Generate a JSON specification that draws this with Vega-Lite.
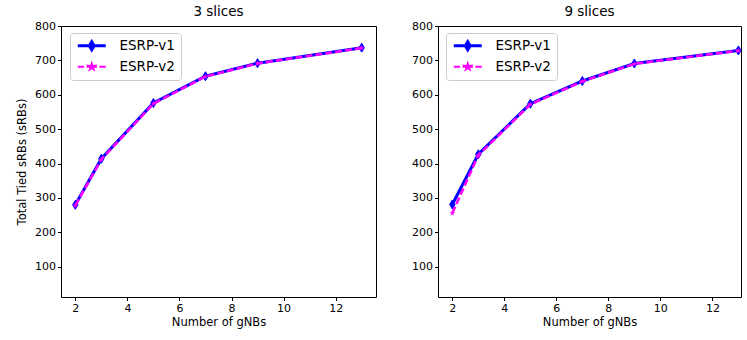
{
  "$schema": "https://vega.github.io/schema/vega-lite/v6.json",
  "padding": {"left": 16, "top": 4, "right": 0, "bottom": 0},
  "background": "white",
  "config": {
    "font": "DejaVu Sans",
    "view": {"stroke": "#000000", "strokeWidth": 1},
    "axis": {"grid": false, "domain": false, "tickColor": "#000000", "tickSize": 3.5, "labelFontSize": 11, "labelColor": "#000000", "titleFontSize": 11.5, "titleFontWeight": "normal", "titleColor": "#000000", "labelPadding": 2},
    "title": {"fontSize": 13.5, "fontWeight": "normal", "color": "#000000", "offset": 2}
  },
  "datasets": {
    "d": [
      {"panel": "3 slices", "series": "ESRP-v1", "gnbs": 2, "srbs": 280},
      {"panel": "3 slices", "series": "ESRP-v1", "gnbs": 3, "srbs": 414},
      {"panel": "3 slices", "series": "ESRP-v1", "gnbs": 5, "srbs": 576},
      {"panel": "3 slices", "series": "ESRP-v1", "gnbs": 7, "srbs": 654},
      {"panel": "3 slices", "series": "ESRP-v1", "gnbs": 9, "srbs": 692},
      {"panel": "3 slices", "series": "ESRP-v1", "gnbs": 13, "srbs": 737},
      {"panel": "3 slices", "series": "ESRP-v2", "gnbs": 2, "srbs": 278},
      {"panel": "3 slices", "series": "ESRP-v2", "gnbs": 3, "srbs": 412},
      {"panel": "3 slices", "series": "ESRP-v2", "gnbs": 5, "srbs": 574},
      {"panel": "3 slices", "series": "ESRP-v2", "gnbs": 7, "srbs": 653},
      {"panel": "3 slices", "series": "ESRP-v2", "gnbs": 9, "srbs": 691},
      {"panel": "3 slices", "series": "ESRP-v2", "gnbs": 13, "srbs": 736},
      {"panel": "9 slices", "series": "ESRP-v1", "gnbs": 2, "srbs": 281},
      {"panel": "9 slices", "series": "ESRP-v1", "gnbs": 3, "srbs": 427},
      {"panel": "9 slices", "series": "ESRP-v1", "gnbs": 5, "srbs": 574},
      {"panel": "9 slices", "series": "ESRP-v1", "gnbs": 7, "srbs": 640},
      {"panel": "9 slices", "series": "ESRP-v1", "gnbs": 9, "srbs": 691},
      {"panel": "9 slices", "series": "ESRP-v1", "gnbs": 13, "srbs": 729},
      {"panel": "9 slices", "series": "ESRP-v2", "gnbs": 2, "srbs": 256},
      {"panel": "9 slices", "series": "ESRP-v2", "gnbs": 3, "srbs": 424},
      {"panel": "9 slices", "series": "ESRP-v2", "gnbs": 5, "srbs": 572},
      {"panel": "9 slices", "series": "ESRP-v2", "gnbs": 7, "srbs": 639},
      {"panel": "9 slices", "series": "ESRP-v2", "gnbs": 9, "srbs": 690},
      {"panel": "9 slices", "series": "ESRP-v2", "gnbs": 13, "srbs": 728}
    ]
  },
  "bounds": "flush",
  "spacing": 62,
  "resolve": {"legend": {"color": "independent"}, "scale": {"x": "independent", "y": "independent"}},
  "hconcat": [
    {
      "title": "3 slices",
      "width": 315,
      "height": 271,
      "data": {"name": "d"},
      "transform": [{"filter": "datum.panel === '3 slices'"}],
      "encoding": {
        "x": {"field": "gnbs", "type": "quantitative", "scale": {"domain": [1.45, 13.55], "nice": false, "zero": false}, "axis": {"values": [2, 4, 6, 8, 10, 12], "title": "Number of gNBs", "titlePadding": 3}},
        "y": {"field": "srbs", "type": "quantitative", "scale": {"domain": [12, 800], "nice": false, "zero": false}, "axis": {"values": [100, 200, 300, 400, 500, 600, 700, 800], "title": "Total Tied sRBs (sRBs)", "titlePadding": 7}},
        "color": {"field": "series", "type": "nominal", "scale": {"domain": ["ESRP-v1", "ESRP-v2"], "range": ["#0000ff", "#ff00ff"]}, "legend": null}
      },
      "layer": [
        {
          "transform": [{"filter": "datum.series === 'ESRP-v1'"}],
          "mark": {"type": "line", "strokeWidth": 3},
          "encoding": {
            "color": {"field": "series", "type": "nominal", "scale": {"domain": ["ESRP-v1", "ESRP-v2"], "range": ["#0000ff", "#ff00ff"]},
              "legend": {"title": null, "orient": "none", "legendX": 9, "legendY": 7, "fillColor": "white", "strokeColor": "#cccccc", "cornerRadius": 3, "padding": 6, "labelFontSize": 13.5, "labelColor": "#000000", "symbolSize": 64, "symbolOffset": 9, "labelOffset": 21, "rowPadding": 3,
                "encode": {"symbols": {"update": {
                  "shape": {"signal": "datum.value === 'ESRP-v1' ? 'M-3.5,0L3.5,0M0,-1L0.6,0L0,1L-0.6,0Z' : 'M-3.5,0L-1.9,0M-1.3,0L-0.6,0M0.6,0L1.3,0M1.9,0L3.5,0M0,-0.75L0.17,-0.23L0.71,-0.23L0.27,0.09L0.44,0.61L0,0.29L-0.44,0.61L-0.27,0.09L-0.71,-0.23L-0.17,-0.23Z'"},
                  "strokeWidth": {"signal": "datum.value === 'ESRP-v1' ? 3 : 2"},
                  "fill": {"signal": "datum.value === 'ESRP-v1' ? '#0000ff' : '#ff00ff'"},
                  "stroke": {"signal": "datum.value === 'ESRP-v1' ? '#0000ff' : '#ff00ff'"},
                  "opacity": {"value": 1}, "fillOpacity": {"value": 1}
                }}}}}
          }
        },
        {
          "transform": [{"filter": "datum.series === 'ESRP-v1'"}],
          "mark": {"type": "point", "filled": true, "opacity": 1, "size": 81, "shape": "M0,-1L0.6,0L0,1L-0.6,0Z", "stroke": "#0000ff", "strokeWidth": 1}
        },
        {
          "transform": [{"filter": "datum.series === 'ESRP-v2'"}],
          "mark": {"type": "line", "strokeWidth": 2.5, "strokeDash": [7, 3]}
        },
        {
          "transform": [{"filter": "datum.series === 'ESRP-v2'"}],
          "mark": {"type": "point", "filled": true, "opacity": 1, "size": 36, "shape": "M0,-1L0.225,-0.309L0.951,-0.309L0.363,0.118L0.588,0.809L0,0.382L-0.588,0.809L-0.363,0.118L-0.951,-0.309L-0.225,-0.309Z"}
        }
      ]
    },
    {
      "title": "9 slices",
      "width": 303,
      "height": 271,
      "data": {"name": "d"},
      "transform": [{"filter": "datum.panel === '9 slices'"}],
      "encoding": {
        "x": {"field": "gnbs", "type": "quantitative", "scale": {"domain": [1.45, 13.1], "nice": false, "zero": false}, "axis": {"values": [2, 4, 6, 8, 10, 12], "title": "Number of gNBs", "titlePadding": 3}},
        "y": {"field": "srbs", "type": "quantitative", "scale": {"domain": [12, 800], "nice": false, "zero": false}, "axis": {"values": [100, 200, 300, 400, 500, 600, 700, 800], "title": null}},
        "color": {"field": "series", "type": "nominal", "scale": {"domain": ["ESRP-v1", "ESRP-v2"], "range": ["#0000ff", "#ff00ff"]}, "legend": null}
      },
      "layer": [
        {
          "transform": [{"filter": "datum.series === 'ESRP-v1'"}],
          "mark": {"type": "line", "strokeWidth": 3},
          "encoding": {
            "color": {"field": "series", "type": "nominal", "scale": {"domain": ["ESRP-v1", "ESRP-v2"], "range": ["#0000ff", "#ff00ff"]},
              "legend": {"title": null, "orient": "none", "legendX": 8, "legendY": 7, "fillColor": "white", "strokeColor": "#cccccc", "cornerRadius": 3, "padding": 6, "labelFontSize": 13.5, "labelColor": "#000000", "symbolSize": 64, "symbolOffset": 9, "labelOffset": 21, "rowPadding": 3,
                "encode": {"symbols": {"update": {
                  "shape": {"signal": "datum.value === 'ESRP-v1' ? 'M-3.5,0L3.5,0M0,-1L0.6,0L0,1L-0.6,0Z' : 'M-3.5,0L-1.9,0M-1.3,0L-0.6,0M0.6,0L1.3,0M1.9,0L3.5,0M0,-0.75L0.17,-0.23L0.71,-0.23L0.27,0.09L0.44,0.61L0,0.29L-0.44,0.61L-0.27,0.09L-0.71,-0.23L-0.17,-0.23Z'"},
                  "strokeWidth": {"signal": "datum.value === 'ESRP-v1' ? 3 : 2"},
                  "fill": {"signal": "datum.value === 'ESRP-v1' ? '#0000ff' : '#ff00ff'"},
                  "stroke": {"signal": "datum.value === 'ESRP-v1' ? '#0000ff' : '#ff00ff'"},
                  "opacity": {"value": 1}, "fillOpacity": {"value": 1}
                }}}}}
          }
        },
        {
          "transform": [{"filter": "datum.series === 'ESRP-v1'"}],
          "mark": {"type": "point", "filled": true, "opacity": 1, "size": 81, "shape": "M0,-1L0.6,0L0,1L-0.6,0Z", "stroke": "#0000ff", "strokeWidth": 1}
        },
        {
          "transform": [{"filter": "datum.series === 'ESRP-v2'"}],
          "mark": {"type": "line", "strokeWidth": 2.5, "strokeDash": [7, 3]}
        },
        {
          "transform": [{"filter": "datum.series === 'ESRP-v2'"}],
          "mark": {"type": "point", "filled": true, "opacity": 1, "size": 36, "shape": "M0,-1L0.225,-0.309L0.951,-0.309L0.363,0.118L0.588,0.809L0,0.382L-0.588,0.809L-0.363,0.118L-0.951,-0.309L-0.225,-0.309Z"}
        }
      ]
    }
  ]
}
